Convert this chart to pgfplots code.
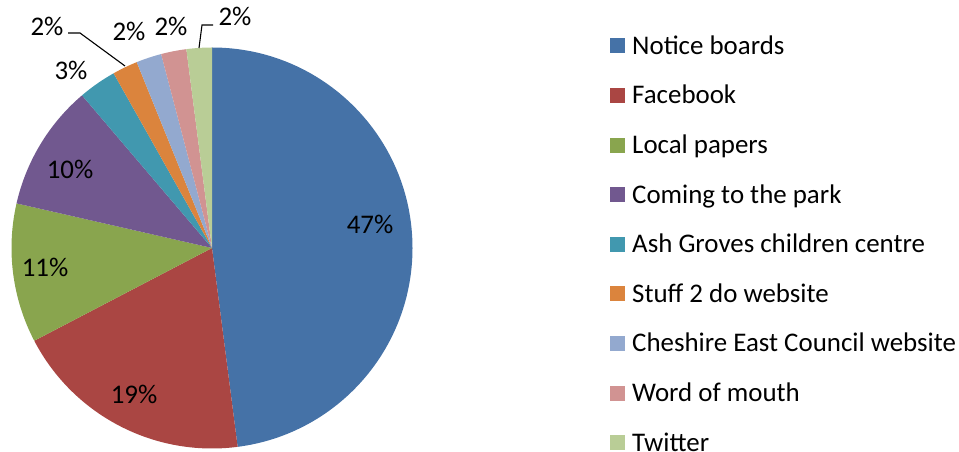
\documentclass[border=0pt]{standalone}
\usepackage{pgfplots}
\usepackage{pgfplotstable}
\pgfplotsset{compat=1.18}
\usepackage{fontspec}
\setmainfont{Carlito}

\definecolor{c0}{HTML}{4572A7}
\definecolor{c1}{HTML}{AA4643}
\definecolor{c2}{HTML}{89A54E}
\definecolor{c3}{HTML}{71588F}
\definecolor{c4}{HTML}{4198AF}
\definecolor{c5}{HTML}{DB843D}
\definecolor{c6}{HTML}{93A9CF}
\definecolor{c7}{HTML}{D19392}
\definecolor{c8}{HTML}{B9CD96}

% label position (pixels from top-left of the picture)
\pgfplotstableread[col sep=comma]{
label,value,lx,ly
Notice boards,47,370,225
Facebook,19,134,395
Local papers,11,45,268
Coming to the park,10,70,170
Ash Groves children centre,3,71,71
Stuff 2 do website,2,47,27
Cheshire East Council website,2,129,32
Word of mouth,2,171,27
Twitter,2,235,17
}\piedata

\begin{document}%
\begin{tikzpicture}
\pgfplotstablegetrowsof{\piedata}
\pgfmathtruncatemacro\nrows{\pgfplotsretval-1}
\gdef\total{0}
\foreach \i in {0,...,\nrows}{%
  \pgfplotstablegetelem{\i}{value}\of\piedata
  \pgfmathparse{\total+\pgfplotsretval}\xdef\total{\pgfmathresult}%
}
\gdef\cum{0}
\foreach \i in {0,...,\nrows}{%
  \pgfplotstablegetelem{\i}{value}\of\piedata
  \expandafter\xdef\csname val\i\endcsname{\pgfplotsretval}%
  \pgfmathparse{90-\cum/\total*360}\expandafter\xdef\csname sa\i\endcsname{\pgfmathresult}%
  \pgfmathparse{\cum+\csname val\i\endcsname}\xdef\cum{\pgfmathresult}%
  \pgfmathparse{90-\cum/\total*360}\expandafter\xdef\csname ea\i\endcsname{\pgfmathresult}%
  \pgfplotstablegetelem{\i}{label}\of\piedata
  \expandafter\xdef\csname lab\i\endcsname{\pgfplotsretval}%
  \pgfplotstablegetelem{\i}{lx}\of\piedata
  \expandafter\xdef\csname lx\i\endcsname{\pgfplotsretval}%
  \pgfplotstablegetelem{\i}{ly}\of\piedata
  \expandafter\xdef\csname ly\i\endcsname{\pgfplotsretval}%
}
\begin{axis}[
  width=959bp, height=452bp, scale only axis,
  xmin=0, xmax=959, ymin=0, ymax=452,
  hide axis, clip=false,
]
\coordinate (BL) at (axis cs:0,0);
\coordinate (TR) at (axis cs:959,452);
\pgfplotsinvokeforeach{0,...,8}{
  \fill[c#1] (axis cs:212,204) -- ++(\csname sa#1\endcsname:200.5bp)
     arc[start angle=\csname sa#1\endcsname, end angle=\csname ea#1\endcsname, radius=200.5bp] -- cycle;
  \fill[c#1] (axis cs:610,{452-38.5-#1*49.6}) rectangle ++(15bp,-15bp);
  \node[anchor=base west, inner sep=0pt, font=\fontsize{26.9bp}{30bp}\selectfont]
     at (axis cs:632,{452-54.3-#1*49.6}) {\csname lab#1\endcsname};
  \node[anchor=base, inner sep=0pt, font=\fontsize{26.9bp}{30bp}\selectfont]
     at (axis cs:{\csname lx#1\endcsname},{452-\csname ly#1\endcsname-8.5}) {\csname val#1\endcsname\%};
}
\draw[line width=1.1bp] (axis cs:68,{452-33}) -- (axis cs:80,{452-33}) -- (axis cs:125,{452-66});
\draw[line width=1.1bp] (axis cs:199,{452-48}) -- (axis cs:202,{452-25}) -- (axis cs:213,{452-25});
\end{axis}
\pgfresetboundingbox
\path[use as bounding box] (BL) rectangle (TR);
\end{tikzpicture}%
\end{document}
